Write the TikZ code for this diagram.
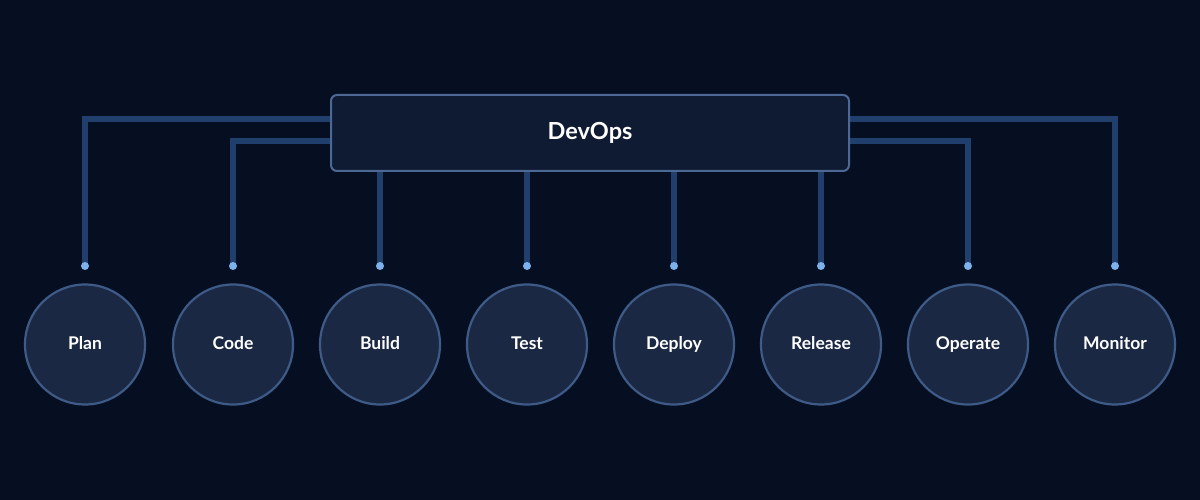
\documentclass[tikz,border=0pt]{standalone}
\usepackage{fontspec}
\setmainfont{Lato}
\usepackage{xcolor}
\usepackage{tikz}
\usetikzlibrary{positioning,calc,backgrounds}
\definecolor{fondo}{HTML}{060F22}
\definecolor{caja}{HTML}{0F1A33}
\definecolor{borde}{HTML}{4D6894}
\definecolor{enlace}{HTML}{213F6C}
\definecolor{punto}{HTML}{7DB1EC}
\definecolor{etapa}{HTML}{1A2843}
\definecolor{bordeetapa}{HTML}{3E5A86}

\begin{document}
\begin{tikzpicture}[x=1pt, y=-1pt, font=\bfseries\fontsize{17.5}{20}\selectfont,
  hub/.style={draw=borde, fill=caja, line width=2pt, rounded corners=6pt,
              minimum width=518pt, minimum height=76pt, text=white,
              font=\bfseries\fontsize{23.5}{26}\selectfont},
  stage/.style={circle, draw=bordeetapa, fill=etapa, line width=2.2pt,
                minimum size=120pt, inner sep=0pt, text=white,
                text height=13pt, text depth=3pt},
  link/.style={enlace, line width=6pt}]
  \node[hub] (devops) at (590,133) {DevOps};
  % stages and line ends
  \foreach \x/\n/\t in {85/plan/Plan, 233/code/Code, 380/build/Build, 527/test/Test,
                        674/deploy/Deploy, 821/release/Release, 968/operate/Operate,
                        1115/monitor/Monitor}{
    \node[stage] (\n) at (\x,344.5) {\t};
    \coordinate (t\n) at (\x,266);
  }
  % links, under the box
  \begin{scope}[on background layer]
    \fill[fondo] (0,0) rectangle (1200,500);
    \draw[link] (tplan) |- ([yshift=14pt]devops.west);
    \draw[link] (tcode) |- ([yshift=-8pt]devops.west);
    \draw[link] (tmonitor) |- ([yshift=14pt]devops.east);
    \draw[link] (toperate) |- ([yshift=-8pt]devops.east);
    \foreach \n in {build,test,deploy,release}
      \draw[link] (t\n) -- (t\n |- devops.south);
    \foreach \n in {plan,code,build,test,deploy,release,operate,monitor}
      \fill[punto] (t\n) circle (4pt);
  \end{scope}
\end{tikzpicture}
\end{document}
